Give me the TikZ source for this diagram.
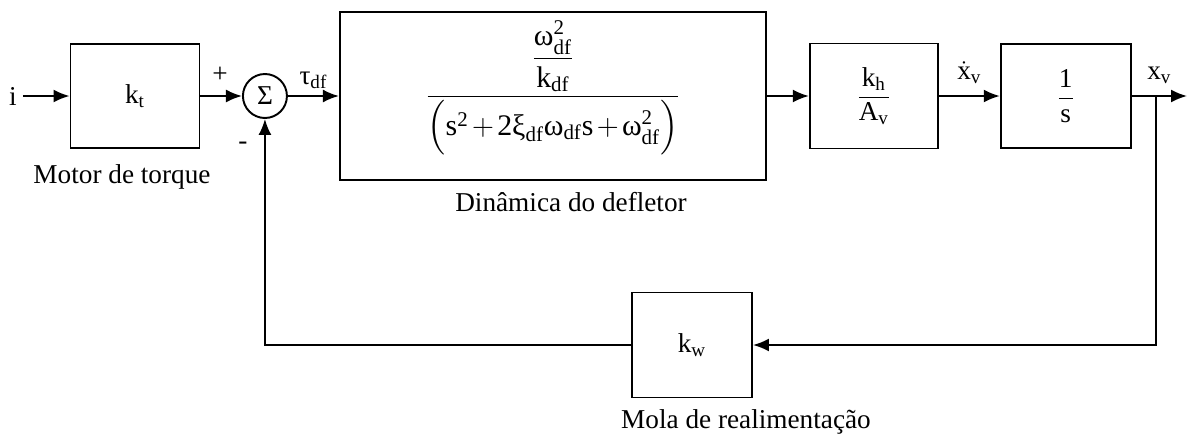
\documentclass[tikz,border=0pt]{standalone}
\usepackage{amsmath}
\usepackage{fontspec}
\setmainfont{Liberation Serif}
\usetikzlibrary{arrows.meta, positioning, calc}
\newcommand{\tx}[1]{\text{#1}}

\begin{document}
\begin{tikzpicture}[
  font=\fontsize{15.5}{18}\selectfont,
  block/.style={
    draw,
    line width=1.1pt,
    minimum width=2.58cm,
    minimum height=2.08cm,
    align=center,
    inner sep=0pt
  },
  summer/.style={draw, circle, line width=1.1pt, minimum size=0.88cm, inner sep=0pt},
  arrow/.style={-{Latex[length=3.2mm, width=2.6mm]}, line width=1.1pt}
]
\useasboundingbox (0,0) rectangle (23.76,-8.8);
\node[block] (torque) at (2.7,-1.92) {$\tx{k}_{\tx{t}}$};
\node[summer, right=0.83cm of torque] (sum) {\tx{Σ}};
\node[block, minimum width=8.52cm, minimum height=3.36cm, right=1.02cm of sum] (deflector) {};
\node[font=\fontsize{17}{20}\selectfont] (deflformula) at ([yshift=0.16cm]deflector.center)
  {$\medmuskip=2mu\dfrac{\dfrac{\tx{ω}^{\tx{2}}_{\tx{df}}}{\tx{k}_{\tx{df}}}}{\Bigl(\tx{s}^{\tx{2}}+\tx{2ξ}_{\tx{df}}\tx{ω}_{\tx{df}}\tx{s}+\tx{ω}^{\tx{2}}_{\tx{df}}\Bigr)}$};
\node[block, minimum width=2.56cm, minimum height=2.1cm, right=0.84cm of deflector] (gain)
  {$\dfrac{\tx{k}_{\tx{h}}}{\tx{A}_{\tx{v}}}$};
\node[block, minimum width=2.6cm, right=1.22cm of gain] (integ) {$\dfrac{\tx{1}}{\tx{s}}$};
\node[block, minimum width=2.4cm, minimum height=2.1cm] (spring) at (13.84,-6.9) {$\tx{k}_{\tx{w}}$};
\node (input) at (0.26,-1.92) {i};
\coordinate (output) at (23.74,-1.92);
\coordinate[right=0.48cm of integ] (branch);
% signs at the summing junction
\node (plus) at (4.4,-1.5) {+};
\node (minus) at (4.86,-2.92) {-};
% block captions
\node (torquelabel) at (2.44,-3.54) {Motor de torque};
\node (deflectorlabel) at (11.42,-4.04) {Dinâmica do defletor};
\node (springlabel) at (14.92,-8.44) {Mola de realimentação};
\draw[arrow] (input) -- (torque);
\draw[arrow] (torque) -- (sum);
\draw[arrow] (sum) -- node[above] {$\tx{τ}_{\tx{df}}$} (deflector);
\draw[arrow] (deflector) -- (gain);
\draw[arrow] (gain) -- node[above=3pt] {$\dot{\tx{x}}_{\tx{v}}$} (integ);
\draw[arrow] (integ) -- node[above=3pt] {$\tx{x}_{\tx{v}}$} (output);
\draw[arrow] (branch) |- (spring);
\draw[arrow] (spring) -| (sum);
\end{tikzpicture}
\end{document}
